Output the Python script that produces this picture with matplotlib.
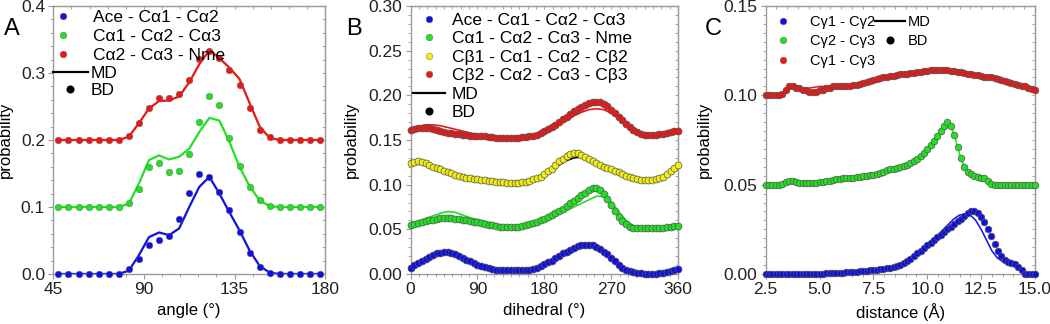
import numpy as np
import matplotlib
matplotlib.use("Agg")
import matplotlib.pyplot as plt
from matplotlib.ticker import AutoMinorLocator, FormatStrFormatter
from matplotlib.lines import Line2D

plt.rcParams['font.family'] = ['Liberation Sans', 'DejaVu Sans']
plt.rcParams['font.size'] = 12

# ---------------- panel A : angles ----------------
angle_x = [47.5 + 5 * i for i in range(27)]
a_blue_bd = [0, 0, 0, 0, 0, 0, 0, 0.007, 0.023, 0.043, 0.051, 0.057, 0.082, 0.121, 0.149,
             0.145, 0.122, 0.095, 0.063, 0.032, 0.011, 0.002, 0, 0, 0, 0, 0]
a_blue_md = [0, 0, 0, 0, 0, 0, 0, 0.005, 0.028, 0.055, 0.062, 0.058, 0.068, 0.100, 0.130,
             0.145, 0.120, 0.092, 0.065, 0.035, 0.012, 0.002, 0, 0, 0, 0, 0]
a_green_bd = [0.1, 0.1, 0.1, 0.1, 0.1, 0.1, 0.1, 0.106, 0.127, 0.160, 0.165, 0.152, 0.153, 0.179,
              0.227, 0.265, 0.252, 0.203, 0.161, 0.130, 0.111, 0.102, 0.1, 0.1, 0.1, 0.1, 0.1]
a_green_md = [0.1, 0.1, 0.1, 0.1, 0.1, 0.1, 0.1, 0.105, 0.135, 0.170, 0.177, 0.171, 0.175, 0.187,
              0.212, 0.233, 0.229, 0.197, 0.160, 0.131, 0.110, 0.101, 0.1, 0.1, 0.1, 0.1, 0.1]
a_red_bd = [0.2, 0.2, 0.2, 0.2, 0.2, 0.2, 0.2, 0.206, 0.225, 0.248, 0.262, 0.262, 0.268, 0.289,
            0.321, 0.333, 0.322, 0.304, 0.282, 0.248, 0.215, 0.204, 0.2, 0.2, 0.2, 0.2, 0.2]
a_red_md = [0.2, 0.2, 0.2, 0.2, 0.2, 0.2, 0.2, 0.205, 0.225, 0.247, 0.258, 0.259, 0.265, 0.286,
            0.313, 0.334, 0.322, 0.308, 0.291, 0.255, 0.220, 0.203, 0.2, 0.2, 0.2, 0.2, 0.2]
a_labels = ['Ace - Cα1 - Cα2', 'Cα1 - Cα2 - Cα3', 'Cα2 - Cα3 - Nme']

# ---------------- panel B : dihedrals ----------------
dih_x = [5 * i for i in range(73)]
dih_x_md = [10 * i for i in range(37)]
b_blue_bd = [0.007, 0.010, 0.012, 0.015, 0.017, 0.019, 0.021, 0.023, 0.024, 0.025, 0.025, 0.024,
             0.022, 0.020, 0.018, 0.016, 0.014, 0.012, 0.010, 0.009, 0.008, 0.007, 0.006, 0.005,
             0.004, 0.004, 0.004, 0.004, 0.004, 0.004, 0.004, 0.005, 0.005, 0.006, 0.007, 0.009,
             0.011, 0.013, 0.015, 0.018, 0.020, 0.023, 0.025, 0.027, 0.029, 0.031, 0.032, 0.033,
             0.033, 0.032, 0.030, 0.028, 0.025, 0.022, 0.018, 0.014, 0.010, 0.007, 0.005, 0.003,
             0.002, 0.001, 0.001, 0.000, 0.000, 0.000, 0.000, 0.001, 0.001, 0.002, 0.003, 0.004,
             0.006]
b_blue_md = [0.006, 0.011, 0.017, 0.021, 0.024, 0.025, 0.022, 0.018, 0.014, 0.010, 0.008, 0.006,
             0.004, 0.004, 0.004, 0.004, 0.005, 0.007, 0.010, 0.014, 0.019, 0.024, 0.028, 0.030,
             0.031, 0.029, 0.024, 0.018, 0.011, 0.006, 0.002, 0.001, 0.000, 0.000, 0.001, 0.003,
             0.005]
b_green_bd = [0.055, 0.056, 0.057, 0.058, 0.059, 0.060, 0.061, 0.062, 0.063, 0.063, 0.063, 0.063,
              0.062, 0.062, 0.061, 0.060, 0.059, 0.058, 0.058, 0.057, 0.056, 0.055, 0.055, 0.054,
              0.053, 0.053, 0.053, 0.053, 0.053, 0.053, 0.054, 0.055, 0.056, 0.057, 0.058, 0.060,
              0.062, 0.064, 0.066, 0.068, 0.071, 0.073, 0.076, 0.079, 0.082, 0.085, 0.088, 0.091,
              0.094, 0.096, 0.096, 0.094, 0.090, 0.084, 0.077, 0.070, 0.064, 0.059, 0.056, 0.053,
              0.052, 0.051, 0.051, 0.051, 0.051, 0.051, 0.051, 0.052, 0.052, 0.053, 0.053, 0.054,
              0.054]
b_green_md = [0.056, 0.059, 0.062, 0.065, 0.068, 0.070, 0.069, 0.066, 0.063, 0.061, 0.059, 0.057,
              0.055, 0.053, 0.053, 0.054, 0.056, 0.058, 0.061, 0.064, 0.067, 0.071, 0.075, 0.079,
              0.083, 0.087, 0.087, 0.081, 0.070, 0.060, 0.054, 0.052, 0.051, 0.051, 0.052, 0.053,
              0.054]
b_yellow_bd = [0.124, 0.125, 0.126, 0.125, 0.124, 0.122, 0.120, 0.119, 0.117, 0.115, 0.114, 0.113,
               0.111, 0.110, 0.109, 0.108, 0.107, 0.106, 0.106, 0.105, 0.105, 0.104, 0.104, 0.103,
               0.103, 0.103, 0.102, 0.102, 0.102, 0.102, 0.103, 0.103, 0.104, 0.106, 0.107, 0.109,
               0.112, 0.115, 0.118, 0.122, 0.126, 0.129, 0.132, 0.134, 0.135, 0.135, 0.133, 0.131,
               0.129, 0.127, 0.124, 0.122, 0.120, 0.119, 0.117, 0.115, 0.114, 0.112, 0.110, 0.109,
               0.107, 0.106, 0.105, 0.105, 0.105, 0.105, 0.106, 0.108, 0.109, 0.112, 0.115, 0.119,
               0.122]
b_yellow_md = [0.124, 0.125, 0.124, 0.121, 0.117, 0.114, 0.111, 0.109, 0.107, 0.106, 0.105, 0.104,
               0.103, 0.102, 0.102, 0.103, 0.104, 0.107, 0.111, 0.116, 0.122, 0.127, 0.130, 0.131,
               0.129, 0.125, 0.122, 0.119, 0.116, 0.112, 0.108, 0.106, 0.105, 0.106, 0.109, 0.114,
               0.121]
b_red_bd = [0.161, 0.162, 0.163, 0.163, 0.163, 0.163, 0.162, 0.161, 0.160, 0.159, 0.158, 0.158,
            0.157, 0.157, 0.156, 0.156, 0.155, 0.155, 0.155, 0.154, 0.154, 0.153, 0.153, 0.152,
            0.152, 0.152, 0.152, 0.152, 0.152, 0.152, 0.153, 0.153, 0.154, 0.155, 0.156, 0.158,
            0.160, 0.162, 0.164, 0.167, 0.170, 0.173, 0.176, 0.179, 0.182, 0.185, 0.187, 0.189,
            0.191, 0.192, 0.192, 0.192, 0.190, 0.188, 0.184, 0.180, 0.176, 0.172, 0.168, 0.164,
            0.161, 0.159, 0.157, 0.156, 0.156, 0.156, 0.156, 0.157, 0.157, 0.158, 0.159, 0.160,
            0.160]
b_red_md = [0.162, 0.165, 0.167, 0.167, 0.166, 0.164, 0.162, 0.160, 0.158, 0.156, 0.155, 0.154,
            0.153, 0.153, 0.153, 0.153, 0.154, 0.156, 0.159, 0.163, 0.167, 0.172, 0.177, 0.181,
            0.184, 0.185, 0.184, 0.180, 0.174, 0.167, 0.161, 0.157, 0.156, 0.156, 0.157, 0.159,
            0.160]
b_labels = ['Ace - Cα1 - Cα2 - Cα3', 'Cα1 - Cα2 - Cα3 - Nme',
            'Cβ1 - Cα1 - Cα2 - Cβ2', 'Cβ2 - Cα2 - Cα3 - Cβ3']

# ---------------- panel C : distances ----------------
dist_x = np.linspace(2.5, 15.0, 81)
dist_x_md = np.linspace(2.5, 15.0, 51)
c_blue_bd = [0, 0, 0, 0, 0, 0, 0, 0, 0, 0, 0, 0, 0, 0, 0, 0, 0,
             0.0002, 0.0003, 0.0004, 0.0005, 0.0006, 0.0007, 0.0008, 0.0009, 0.001, 0.0011,
             0.0013, 0.0015, 0.0017, 0.0019, 0.0021, 0.0023, 0.0025, 0.0027, 0.003, 0.0033,
             0.0036, 0.004, 0.0045, 0.005, 0.006, 0.007, 0.0085, 0.010, 0.0115, 0.013, 0.0145,
             0.016, 0.0175, 0.019, 0.0205, 0.022, 0.0235, 0.025, 0.0265, 0.028, 0.0295, 0.031,
             0.0325, 0.034, 0.035, 0.035, 0.034, 0.032, 0.029, 0.025, 0.021, 0.017, 0.013, 0.010,
             0.008, 0.0065, 0.006, 0.0055, 0.004, 0.002, 0, 0, 0, 0]
c_blue_md = [0, 0, 0, 0, 0, 0, 0, 0, 0, 0, 0, 0.0002, 0.0004, 0.0006, 0.0008, 0.001, 0.0012,
             0.0015, 0.0018, 0.0021, 0.0024, 0.0028, 0.0032, 0.0038, 0.0045, 0.0055, 0.007,
             0.009, 0.0115, 0.014, 0.017, 0.0195, 0.022, 0.025, 0.028, 0.031, 0.033, 0.0335,
             0.033, 0.030, 0.025, 0.019, 0.013, 0.009, 0.007, 0.006, 0.005, 0.003, 0.0005, 0, 0]
c_green_bd = [0.050, 0.050, 0.050, 0.050, 0.050, 0.0505, 0.0515, 0.052, 0.052, 0.0515, 0.051,
              0.051, 0.051, 0.051, 0.051, 0.051, 0.0515, 0.0515, 0.052, 0.052, 0.0525, 0.053,
              0.053, 0.0535, 0.054, 0.054, 0.054, 0.0545, 0.0545, 0.055, 0.055, 0.0555, 0.0555,
              0.056, 0.0565, 0.057, 0.058, 0.0585, 0.059, 0.0595, 0.060, 0.0605, 0.061, 0.062,
              0.063, 0.0645, 0.066, 0.068, 0.070, 0.072, 0.0745, 0.077, 0.080, 0.083, 0.085,
              0.083, 0.078, 0.071, 0.065, 0.060, 0.057, 0.056, 0.055, 0.0545, 0.054, 0.0535,
              0.052, 0.0505, 0.050, 0.050, 0.050, 0.050, 0.050, 0.050, 0.050, 0.050, 0.050,
              0.050, 0.050, 0.050, 0.050]
c_green_md = [0.050, 0.050, 0.050, 0.0505, 0.052, 0.052, 0.051, 0.051, 0.051, 0.051, 0.0515,
              0.052, 0.052, 0.053, 0.0535, 0.054, 0.054, 0.0545, 0.055, 0.055, 0.0555, 0.056,
              0.057, 0.058, 0.059, 0.060, 0.061, 0.062, 0.064, 0.067, 0.070, 0.073, 0.077, 0.082,
              0.085, 0.078, 0.067, 0.059, 0.056, 0.055, 0.054, 0.052, 0.050, 0.050, 0.050, 0.050,
              0.050, 0.050, 0.050, 0.050, 0.050]
c_red_bd = [0.100, 0.100, 0.100, 0.100, 0.100, 0.101, 0.103, 0.105, 0.105, 0.104, 0.104, 0.103,
            0.103, 0.102, 0.102, 0.102, 0.103, 0.103, 0.104, 0.104, 0.105, 0.105, 0.105, 0.1055,
            0.1055, 0.1055, 0.106, 0.106, 0.1065, 0.107, 0.1075, 0.108, 0.1085, 0.109, 0.1095,
            0.110, 0.1105, 0.111, 0.111, 0.1115, 0.112, 0.112, 0.112, 0.1125, 0.1125, 0.113,
            0.113, 0.1135, 0.1135, 0.114, 0.114, 0.114, 0.114, 0.114, 0.114, 0.1135, 0.1135,
            0.113, 0.113, 0.1125, 0.112, 0.112, 0.1115, 0.1115, 0.111, 0.1105, 0.110, 0.110,
            0.1095, 0.109, 0.1085, 0.108, 0.1075, 0.107, 0.1065, 0.106, 0.1055, 0.105, 0.104,
            0.1035, 0.103]
c_red_md = [0.100, 0.100, 0.100, 0.101, 0.104, 0.105, 0.104, 0.1035, 0.104, 0.1045, 0.105,
            0.105, 0.105, 0.105, 0.1055, 0.1055, 0.106, 0.1065, 0.107, 0.108, 0.1085, 0.1095,
            0.110, 0.1105, 0.111, 0.1115, 0.112, 0.1125, 0.113, 0.1135, 0.1135, 0.114, 0.114,
            0.114, 0.114, 0.1135, 0.113, 0.1125, 0.112, 0.1115, 0.111, 0.1105, 0.110, 0.1095,
            0.109, 0.108, 0.107, 0.106, 0.105, 0.104, 0.103]
c_labels = ['Cγ1 - Cγ2', 'Cγ2 - Cγ3', 'Cγ1 - Cγ3']

blue, green, red, yellow = '#1010e0', '#22e022', '#e81818', '#f2ee10'
spine_gray = '#9a9a9a'

fig = plt.figure(figsize=(10.5, 3.24), dpi=100)
axA = fig.add_axes([0.0508, 0.1543, 0.2588, 0.8272])
axB = fig.add_axes([0.3911, 0.1543, 0.2546, 0.8272])
axC = fig.add_axes([0.7292, 0.1543, 0.2565, 0.8272])


def style(ax, xlim, xticks, xminor, ylim, yticks, yminor, yfmt, xfmt=None):
    ax.set_xlim(*xlim)
    ax.set_ylim(*ylim)
    ax.set_xticks(xticks)
    ax.set_yticks(yticks)
    ax.xaxis.set_minor_locator(AutoMinorLocator(xminor))
    ax.yaxis.set_minor_locator(AutoMinorLocator(yminor))
    ax.yaxis.set_major_formatter(FormatStrFormatter(yfmt))
    if xfmt:
        ax.xaxis.set_major_formatter(FormatStrFormatter(xfmt))
    for s in ax.spines.values():
        s.set_color(spine_gray)
        s.set_linewidth(1.0)
    ax.tick_params(which='both', direction='out', color=spine_gray, labelsize=12.5,
                   labelcolor='#222222', pad=2.5)
    ax.tick_params(which='major', length=3.5, width=0.8)
    ax.tick_params(which='minor', length=2, width=0.6)
    sx = ax.secondary_xaxis('top')
    sx.set_xticks(xticks)
    sx.xaxis.set_minor_locator(AutoMinorLocator(xminor))
    sx.tick_params(which='both', direction='in', color=spine_gray, labeltop=False, length=2,
                   width=0.6)
    sx.spines['top'].set_color(spine_gray)
    sy = ax.secondary_yaxis('right')
    sy.set_yticks(yticks)
    sy.yaxis.set_minor_locator(AutoMinorLocator(yminor))
    sy.tick_params(which='both', direction='in', color=spine_gray, labelright=False, length=2,
                   width=0.6)
    sy.spines['right'].set_color(spine_gray)


dot_kw = dict(linestyle='none', marker='o', clip_on=False, zorder=3)
leg_kw = dict(loc='upper left', frameon=False, borderpad=0, borderaxespad=0)

# panel A
for bd, md, col in [(a_blue_bd, a_blue_md, blue), (a_green_bd, a_green_md, green),
                    (a_red_bd, a_red_md, red)]:
    axA.plot(angle_x, md, color=col, lw=1.6, zorder=2)
    axA.plot(angle_x, bd, color=col, ms=4.8, mec='#666666', mew=0.3, **dot_kw)
style(axA, (45, 180), [45, 90, 135, 180], 5, (0, 0.4), [0, 0.1, 0.2, 0.3, 0.4], 5, '%.1f')
axA.set_xlabel('angle (°)')
axA.set_ylabel('probability')
axA.yaxis.set_label_coords(-0.148, 0.5)
axA.xaxis.set_label_coords(0.5, -0.108)

hA1 = [Line2D([], [], color=c, marker='o', ls='none', ms=4.8, mec='#666666', mew=0.3)
       for c in (blue, green, red)]
legA1 = axA.legend(hA1, a_labels, bbox_to_anchor=(0.004, 0.984), handlelength=1.0,
                   handletextpad=1.22, labelspacing=0.2, fontsize=12.5, **leg_kw)
axA.add_artist(legA1)
hA2 = [Line2D([], [], color='black', lw=1.6),
       Line2D([], [], color='black', marker='o', ls='none', ms=4.8)]
axA.legend(hA2, ['MD', 'BD'], bbox_to_anchor=(-0.001, 0.776), handlelength=2.0,
           handletextpad=0.17, labelspacing=0.1, fontsize=12.5, **leg_kw)

# panel B
for bd, md, col, lcol in [(b_blue_bd, b_blue_md, blue, blue), (b_green_bd, b_green_md, green, green),
                          (b_yellow_bd, b_yellow_md, yellow, 'black'),
                          (b_red_bd, b_red_md, red, red)]:
    axB.plot(dih_x_md, md, color=lcol, lw=1.2, zorder=2)
    axB.plot(dih_x, bd, color=col, ms=5.0, mec='#555555', mew=0.5, **dot_kw)
style(axB, (0, 360), [0, 90, 180, 270, 360], 8, (0, 0.30),
      [0, 0.05, 0.10, 0.15, 0.20, 0.25, 0.30], 5, '%.2f')
axB.set_xlabel('dihedral (°)')
axB.set_ylabel('probability')
axB.yaxis.set_label_coords(-0.193, 0.5)
axB.xaxis.set_label_coords(0.5, -0.108)

hB = [Line2D([], [], color=c, marker='o', ls='none', ms=4.8, mec='#666666', mew=0.3)
      for c in (blue, green, yellow, red)]
hB += [Line2D([], [], color='black', lw=1.6),
       Line2D([], [], color='black', marker='o', ls='none', ms=4.8)]
axB.legend(hB, b_labels + ['MD', 'BD'], bbox_to_anchor=(0.009, 0.975), handlelength=1.84,
           handletextpad=0.385, labelspacing=0.19, fontsize=12.5, **leg_kw)

# panel C
for bd, md, col in [(c_blue_bd, c_blue_md, blue), (c_green_bd, c_green_md, green),
                    (c_red_bd, c_red_md, red)]:
    axC.plot(dist_x_md, md, color=col, lw=1.1, zorder=2)
    axC.plot(dist_x, bd, color=col, ms=4.8, mec='#555555', mew=0.5, **dot_kw)
style(axC, (2.5, 15), [2.5, 5.0, 7.5, 10.0, 12.5, 15.0], 5, (0, 0.15),
      [0, 0.05, 0.10, 0.15], 10, '%.2f', '%.1f')
axC.set_xlabel('distance (Å)')
axC.set_ylabel('probability')
axC.yaxis.set_label_coords(-0.198, 0.5)
axC.xaxis.set_label_coords(0.5, -0.108)

hC1 = [Line2D([], [], color=c, marker='o', ls='none', ms=4.8, mec='#666666', mew=0.3)
       for c in (blue, green, red)]
legC1 = axC.legend(hC1, c_labels, bbox_to_anchor=(0.037, 0.967), handlelength=1.0,
                   handletextpad=1.35, labelspacing=0.37, fontsize=10.5, **leg_kw)
axC.add_artist(legC1)
hC2 = [Line2D([], [], color='black', lw=1.6),
       Line2D([], [], color='black', marker='o', ls='none', ms=4.8)]
axC.legend(hC2, ['MD', 'BD'], bbox_to_anchor=(0.406, 0.967), handlelength=2.05,
           handletextpad=0.2, labelspacing=0.37, fontsize=10.5, **leg_kw)

for x, letter in [(0.004, 'A'), (0.330, 'B'), (0.671, 'C')]:
    fig.text(x, 0.893, letter, fontsize=17, va='baseline')

fig.savefig('out.png', dpi=100)
